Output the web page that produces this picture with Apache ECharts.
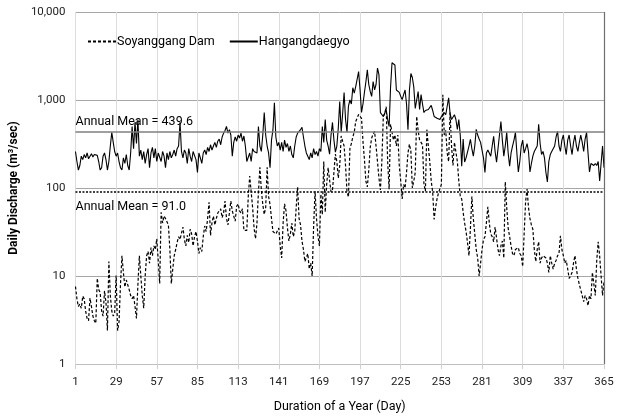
<!DOCTYPE html>
<html><head><meta charset="utf-8">
<script src="https://cdn.jsdelivr.net/npm/echarts@6/dist/echarts.min.js"></script>
<style>html,body{margin:0;padding:0;background:#fff}#c{width:621px;height:418px}</style>
</head><body><div id="c"></div>
<script>
// Day numbers 1..365 (category positions)
const days = [];
for (let d = 1; d <= 365; d++) days.push(d);

const xTickDays = [1, 29, 57, 85, 113, 141, 169, 197, 225, 253, 281, 309, 337, 365];
const yTickValues = [1, 10, 100, 1000, 10000];

const legendNames = ['Soyanggang Dam', 'Hangangdaegyo'];

// Daily discharge, Soyanggang Dam (m3/sec)
const soyanggang = [
  7.6,5.5,4.5,4.8,4.3,5.9,5.5,4.0,3.3,3.1,
  5.6,4.5,3.5,3.1,2.9,9.4,7.0,6.5,4.0,3.5,
  6.8,5.0,2.4,14.6,6.0,4.0,3.5,3.8,10.1,2.4,
  3.0,8.0,17,11,7.5,9.0,8.7,7.0,6.0,5.5,
  6.0,4.5,3.3,8.0,17,10,6.0,4.3,10,17,
  19,14,21,17,22,20,26.5,15,8.2,53,
  40,48,45,44,38,20,8.2,12,17,20,
  24,28,26,26,36,26,22,29,24,34,
  30,22,28,32,25,18,21,19,28,37,
  32,45,69,29,40,48,38,45,52,50,
  58,46,52,71,45,38,40,71,55,48,
  42,62,66,55,52,58,33,34,33,80,
  137,90,60,35,26.5,40,90,172,95,65,
  50,60,172,80,65,45,32,33,30,31,
  35,22,16,40,66,55,35,25,30,40,
  28,32,60,103,45,38,25,20,14.6,15,
  18,12,14,10,36,92,45,28.6,22,85,
  50,200,53,110,170,172,90,95,150,242,
  200,130,180,390,340,300,180,90,79,280,
  320,380,430,570,600,685,685,620,340,212,
  120,103,160,290,370,410,440,300,200,130,
  95,200,650,700,840,200,97,530,556,350,
  400,300,400,180,120,75,110,100,150,250,
  315,260,100,120,150,650,450,350,330,310,
  110,92,460,300,200,120,90,44,60,75,
  88,90,110,1150,400,450,250,200,720,300,
  180,330,320,200,120,81,75,53,40,32,
  24,17,35,80,45,30,20,16,10,14,
  20,26,28,40,61,40,30,28,24.5,36,
  27,20,17,22,25,16,117,60,35,28,
  22,18,17,20,21,21,18,17,12.8,30,
  70,97,60,45,38,34,20,14.6,20,24.5,
  14,16,17,17,16,14,11,17,14,12,
  14,15,17,18,28.6,20,17,14,15,12,
  9.4,10,11,14,17,12,9.5,8,8,6,
  5.1,6,5.5,4.6,6,5.5,11,11,6,15,
  24.5,17,10,6,8.7
];

// Daily discharge, Hangangdaegyo (m3/sec)
const hangangdaegyo = [
  260,200,160,180,230,210,240,220,250,215,
  230,245,225,240,250,235,200,160,170,230,
  250,210,160,200,300,430,330,260,230,250,
  200,170,160,220,190,240,180,160,250,500,
  280,560,320,600,230,270,210,260,190,240,
  280,170,250,290,220,280,200,250,240,200,
  260,230,170,250,210,260,220,240,270,230,
  280,300,560,260,220,270,250,190,280,230,
  200,260,250,210,150,250,220,190,250,270,
  240,290,260,310,270,300,330,290,340,360,
  310,380,420,450,500,420,460,400,230,330,
  380,340,400,370,420,340,390,300,200,190,
  250,200,280,260,270,250,500,300,260,400,
  720,400,300,250,170,350,460,930,380,300,
  330,270,330,260,350,290,320,260,300,240,
  220,300,380,420,400,460,490,380,300,250,
  230,210,250,220,280,240,260,230,280,260,
  500,330,600,350,300,242,400,556,350,255,
  300,480,960,430,700,1217,600,430,850,1000,
  900,1380,1200,1420,1450,2100,1300,722,900,1217,
  1600,2200,1500,1250,1100,1618,1300,1500,2300,1940,
  720,700,650,620,780,600,500,1400,2650,2600,
  2500,1300,1250,1220,1100,1010,1150,1300,900,460,
  1300,2000,1800,1400,800,1000,1250,780,1150,900,
  720,760,780,780,820,870,760,650,640,620,
  600,600,650,680,720,680,650,1060,700,600,
  600,680,600,464,600,400,177,360,197,220,
  230,300,358,280,230,300,464,400,360,330,
  320,220,150,250,270,260,230,300,387,260,
  197,280,400,570,350,230,300,429,250,177,
  250,300,350,429,250,152,200,300,350,250,
  280,320,260,152,190,230,260,260,300,528,
  320,240,260,220,150,117,200,240,260,270,
  300,380,441,300,260,350,400,300,240,350,
  400,300,240,330,400,300,260,330,400,330,
  260,360,429,250,152,190,200,180,190,180,
  200,120,190,300,170
];

const meanSoyanggang = 91.0;
const meanHangangdaegyo = 439.6;

const F = "Roboto, 'Liberation Sans', sans-serif";

const chart = echarts.init(document.getElementById('c'), null, {renderer: 'canvas'});
chart.setOption({
  animation: false,
  backgroundColor: '#fff',
  textStyle: {fontFamily: F},
  grid: {left: 70, right: 17, top: 12, bottom: 52, containLabel: false},
  legend: {
    left: 82, top: 30,
    itemWidth: 28, itemHeight: 12, itemGap: 14,
    data: legendNames,
    itemStyle: {opacity: 0, borderWidth: 0},
    textStyle: {fontFamily: F, fontSize: 12.5, color: '#000', padding: [0, 0, 0, -4]}
  },
  xAxis: {
    type: 'value', min: xTickDays[0], max: xTickDays[xTickDays.length - 1], interval: 28,
    name: 'Duration of a Year (Day)', nameLocation: 'middle', nameGap: 36,
    nameTextStyle: {fontFamily: F, fontSize: 12.5, color: '#000'},
    axisLine: {show: true, lineStyle: {color: '#bfbfbf', width: 1}},
    axisTick: {show: true, length: 5, lineStyle: {color: '#d0d0d0'}},
    axisLabel: {fontFamily: F, fontSize: 11.5, color: '#222', margin: 12},
    splitLine: {show: true, lineStyle: {color: '#dcdcdc', width: 1}}
  },
  yAxis: {
    type: 'log', logBase: 10, min: yTickValues[0], max: yTickValues[yTickValues.length - 1],
    name: 'Daily Discharge (m\u00b3/sec)', nameLocation: 'middle', nameGap: 47,
    nameTextStyle: {fontFamily: F, fontSize: 12, fontWeight: 'bold', color: '#000'},
    axisLine: {show: false}, axisTick: {show: false},
    axisLabel: {fontFamily: F, fontSize: 11.5, color: '#222', margin: 10,
      formatter: v => Number(v).toLocaleString('en-US')},
    splitLine: {show: true, lineStyle: {color: '#a6a6a6', width: 1}}
  },
  series: [
    {
      name: legendNames[0], type: 'line', symbol: 'none', z: 3,
      data: days.map((d, i) => [d, soyanggang[i]]),
      lineStyle: {color: '#000', width: 1.2, type: [3, 2]},
      itemStyle: {color: '#000'},
      markLine: {
        silent: true, symbol: ['none', 'none'],
        data: [
          {yAxis: meanSoyanggang,
           lineStyle: {color: '#000', width: 1.6, type: [2, 1.5]},
           label: {show: true, position: 'insideStartBottom', distance: [0, 9],
             formatter: 'Annual Mean = ' + meanSoyanggang.toFixed(1),
             fontFamily: F, fontSize: 12.5, color: '#000'}}
        ]
      }
    },
    {
      name: legendNames[1], type: 'line', symbol: 'none', z: 2,
      data: days.map((d, i) => [d, hangangdaegyo[i]]),
      lineStyle: {color: '#000', width: 1.1, type: 'solid'},
      itemStyle: {color: '#000'},
      markLine: {
        silent: true, symbol: ['none', 'none'],
        data: [
          {yAxis: meanHangangdaegyo,
           lineStyle: {color: '#7f7f7f', width: 1.6, type: 'solid'},
           label: {show: true, position: 'insideStartTop', distance: [0, 3],
             formatter: 'Annual Mean = ' + meanHangangdaegyo.toFixed(1),
             fontFamily: F, fontSize: 12.5, color: '#000'}},
          {xAxis: xTickDays[xTickDays.length - 1],
           lineStyle: {color: '#6e6e6e', width: 1.2, type: 'solid'},
           label: {show: false}}
        ]
      }
    }
  ]
});
</script>
</body></html>
